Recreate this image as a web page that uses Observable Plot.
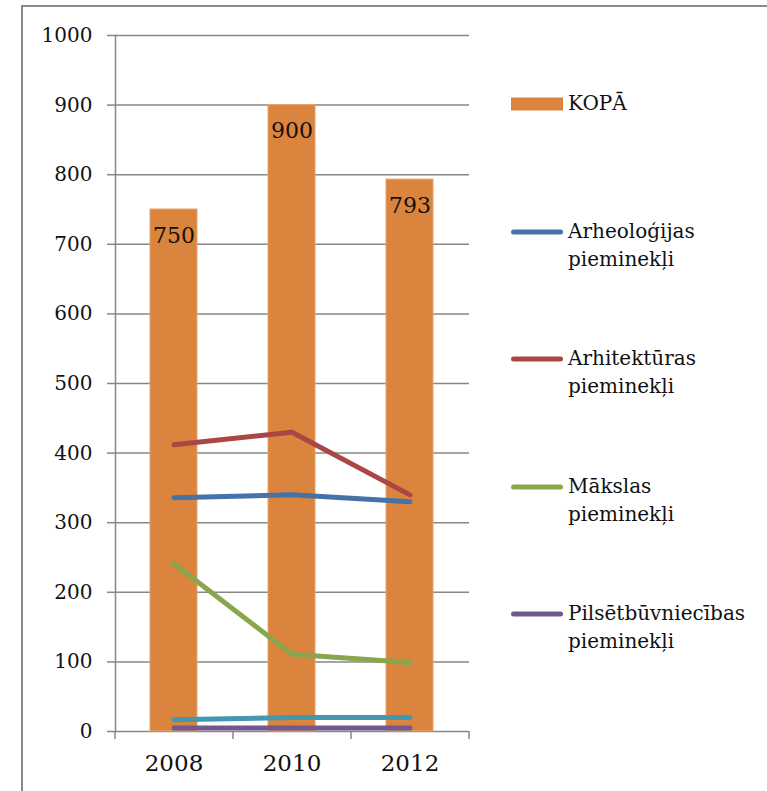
<!DOCTYPE html>
<html><head><meta charset="utf-8">
<script src="https://cdn.jsdelivr.net/npm/d3@7"></script>
<script src="https://cdn.jsdelivr.net/npm/@observablehq/plot@0.6"></script>
<style>
body{margin:0;overflow:hidden;background:#fff;font-family:"DejaVu Serif",serif;}
#wrap{position:relative;width:767px;height:791px;overflow:hidden;}
#border{position:absolute;left:21px;top:5px;width:900px;height:900px;border:2px solid #8a8a8a;}
#chart{position:absolute;left:0;top:0;}
.sw{position:absolute;left:509px;width:56px;height:28px;}
.lt{position:absolute;left:568px;font-size:20px;line-height:28px;color:#111;white-space:nowrap;}
</style></head><body>
<div id="wrap"><div id="border"></div><div id="chart"></div><div id="legend"></div></div>
<script>
// ---- data ----
const years = ["2008", "2010", "2012"];
const kopa = [750, 900, 793];
const arheologijas = [336, 340, 330];
const arhitekturas = [412, 430, 340];
const makslas = [241, 111, 99];
const pilsetbuvniecibas = [5, 5, 5];
const citi = [17, 20, 20]; // series whose legend entry is cut off in the original
const yTicks = [0, 100, 200, 300, 400, 500, 600, 700, 800, 900, 1000];

const barName = "KOPĀ";
const lineSeries = [
  {name: "Arheoloģijas pieminekļi", values: arheologijas, color: "#4572A7", legend: true},
  {name: "Arhitektūras pieminekļi", values: arhitekturas, color: "#AA4643", legend: true},
  {name: "Mākslas pieminekļi", values: makslas, color: "#89A54E", legend: true},
  {name: "Pilsētbūvniecības pieminekļi", values: pilsetbuvniecibas, color: "#71588F", legend: true},
  {name: "Citi", values: citi, color: "#4198AF", legend: false}
];
const barColor = "#DB843D";

const barData = years.map((y, i) => ({year: y, value: kopa[i]}));
const toRows = s => years.map((y, i) => ({year: y, value: s.values[i], series: s.name}));

const W = 767, H = 791;
const mLeft = 115, mRight = 298, mTop = 35, mBottom = 60;
const gridColor = "#878787";

function boundaryTicks(index, scales, values, dims) {
  const n = years.length;
  const step = (dims.width - dims.marginLeft - dims.marginRight) / n;
  const y0 = dims.height - dims.marginBottom;
  const g = d3.create("svg:g").attr("stroke", gridColor).attr("stroke-width", 1.5);
  for (let i = 0; i <= n; i++) {
    const x = dims.marginLeft + i * step;
    g.append("line").attr("x1", x).attr("x2", x).attr("y1", y0).attr("y2", y0 + 8);
  }
  return g.node();
}

const plot = Plot.plot({
  width: W, height: H,
  marginLeft: mLeft, marginRight: mRight, marginTop: mTop, marginBottom: mBottom,
  style: {fontFamily: "DejaVu Serif", fontSize: "20px", color: "#111", background: "transparent"},
  x: {type: "band", domain: years, paddingInner: 0.6, paddingOuter: 0.3, label: null},
  y: {domain: [0, 1000], label: null},
  marks: [
    Plot.gridY(yTicks, {stroke: gridColor, strokeOpacity: 1, strokeWidth: 1.5}),
    Plot.axisY(yTicks, {tickSize: 8, tickPadding: 15, tickFormat: d => String(d), stroke: gridColor, strokeWidth: 1.5, fill: "#111", fontSize: 20, label: null}),
    Plot.frame({anchor: "left", stroke: gridColor, strokeWidth: 1.5}),
    Plot.barY(barData, {x: "year", y: "value", fill: barColor, stroke: "#e9a46c", strokeWidth: 1}),
    Plot.text(barData, {x: "year", y: "value", text: d => String(d.value), dy: 26, fontSize: 22, fill: "#111"}),
    ...[4, 3, 0, 1, 2].map(i => Plot.line(toRows(lineSeries[i]), {
      x: "year", y: "value", stroke: lineSeries[i].color, strokeWidth: 5, strokeLinecap: "round", strokeLinejoin: "round"
    })),
    Plot.axisX({tickSize: 0, tickPadding: 23, fontSize: 23, fill: "#111", label: null}),
    boundaryTicks
  ]
});
document.getElementById("chart").append(plot);

// ---- legend (HTML, right side) ----
const legend = document.getElementById("legend");
const legendItems = [{name: barName, color: barColor, type: "bar"}]
  .concat(lineSeries.filter(s => s.legend).map(s => ({name: s.name, color: s.color, type: "line"})));
legendItems.forEach((it, i) => {
  const cy = 104 + i * 127.5;
  const sw = document.createElement("div");
  sw.className = "sw";
  sw.style.top = (cy - 14) + "px";
  sw.innerHTML = it.type === "bar"
    ? `<svg width="56" height="28"><rect x="2" y="7.5" width="52" height="13" fill="${it.color}"/></svg>`
    : `<svg width="56" height="28"><line x1="4.5" x2="51.5" y1="14" y2="14" stroke="${it.color}" stroke-width="5" stroke-linecap="round"/></svg>`;
  legend.append(sw);
  const t = document.createElement("div");
  t.className = "lt";
  t.style.top = (cy - 15) + "px";
  t.innerHTML = it.name.split(" ").join("<br>");
  legend.append(t);
});
</script>
</body></html>
